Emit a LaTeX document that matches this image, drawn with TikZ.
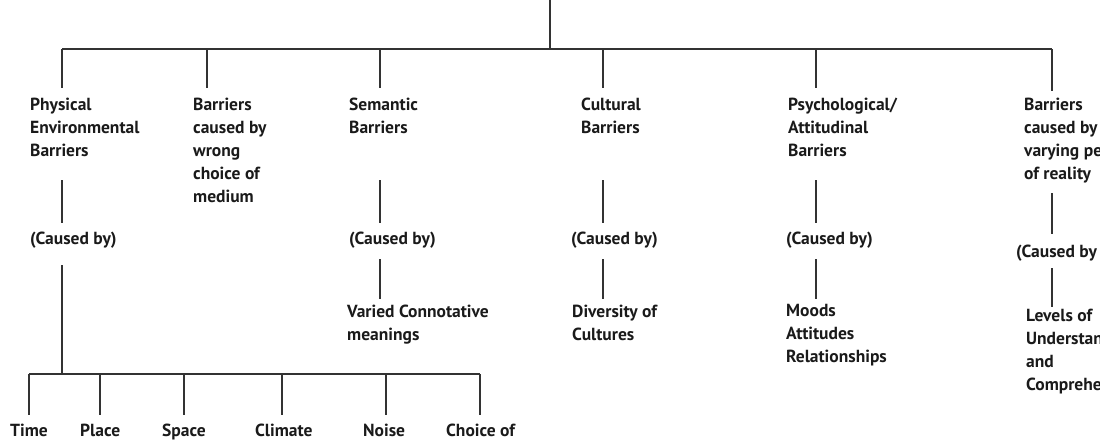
\documentclass[tikz,border=0pt]{standalone}
\usepackage{fontspec}
\setmainfont{PT Sans}
\usetikzlibrary{calc}
\definecolor{inkline}{HTML}{333333}
\definecolor{inktext}{HTML}{1A1A1A}

\begin{document}
\begin{tikzpicture}[
  x=1pt, y=-1pt,
  lbl/.style={anchor=north west, yshift=16.1pt, inner sep=0pt, align=left,
              text=inktext, font=\fontsize{17.5}{23}\selectfont\bfseries,
              execute at begin node=\strut},
  wire/.style={draw=inkline, line width=1.7pt},
]
\useasboundingbox (0,0) rectangle (1100,440);

% ── Labels (placed at first baseline) ───────────────────────────────────
\node[lbl] (phys)    at (30,114)   {Physical\\Environmental\\Barriers};
\node[lbl] (medium)  at (193,114)  {Barriers\\caused by\\wrong\\choice of\\medium};
\node[lbl] (sem)     at (349,114)  {Semantic\\Barriers};
\node[lbl] (cult)    at (581,114)  {Cultural\\Barriers};
\node[lbl] (psych)   at (788,114)  {Psychological/\\Attitudinal\\Barriers};
\node[lbl] (reality) at (1024,114) {Barriers\\caused by\\varying pe\\of reality};

\node[lbl] (physby)    at (30,244)   {(Caused by)};
\node[lbl] (semby)     at (349,244)  {(Caused by)};
\node[lbl] (cultby)    at (571,244)  {(Caused by)};
\node[lbl] (psychby)   at (786,244)  {(Caused by)};
\node[lbl] (realityby) at (1016,257) {(Caused by};

\node[lbl] (semres)     at (347,321)  {Varied Connotative\\meanings};
\node[lbl] (cultres)    at (572,321)  {Diversity of\\Cultures};
\node[lbl] (psychres)   at (786,320)  {Moods\\Attitudes\\Relationships};
\node[lbl] (realityres) at (1026,325) {Levels of\\Understan\\and\\Comprehe};

\node[lbl] (time)    at (10,436)  {Time};
\node[lbl] (place)   at (80,436)  {Place};
\node[lbl] (space)   at (162,436) {Space};
\node[lbl] (climate) at (255,436) {Climate};
\node[lbl] (noise)   at (363,436) {Noise};
\node[lbl] (choice)  at (446,436) {Choice of};

% ── Junctions ───────────────────────────────────────────────────────────
\coordinate (root)  at (550,0);
\coordinate (hub)   at (550,49);
\coordinate (barL)  at (62,49);
\coordinate (barR)  at (1052,49);
\coordinate (sub)   at (62,374);
\coordinate (subL)  at (29,374);
\coordinate (subR)  at (480,374);

% ── Edges ───────────────────────────────────────────────────────────────
\draw[wire] (root) -- (hub);
\draw[wire] (barL) -- (barR);
\draw[wire] (barL) -- (62,88);
\draw[wire] (207,49) -- (207,88);
\draw[wire] (380,49) -- (380,88);
\draw[wire] (603,49) -- (603,88);
\draw[wire] (816,49) -- (816,88);
\draw[wire] (barR) -- (1052,91);

\draw[wire] (62,180) -- (62,223);
\draw[wire] (380,180) -- (380,223);
\draw[wire] (603,180) -- (603,223);
\draw[wire] (816,180) -- (816,223);
\draw[wire] (1052,193) -- (1052,234);

\draw[wire] (62,265) -- (sub);
\draw[wire] (380,259) -- (380,299);
\draw[wire] (603,259) -- (603,299);
\draw[wire] (816,259) -- (816,299);
\draw[wire] (1052,268) -- (1052,307);

\draw[wire] (subL) -- (subR);
\draw[wire] (subL) -- (29,415);
\draw[wire] (100,374) -- (100,415);
\draw[wire] (184,374) -- (184,415);
\draw[wire] (282,374) -- (282,415);
\draw[wire] (386,374) -- (386,415);
\draw[wire] (subR) -- (480,415);

\end{tikzpicture}
\end{document}
